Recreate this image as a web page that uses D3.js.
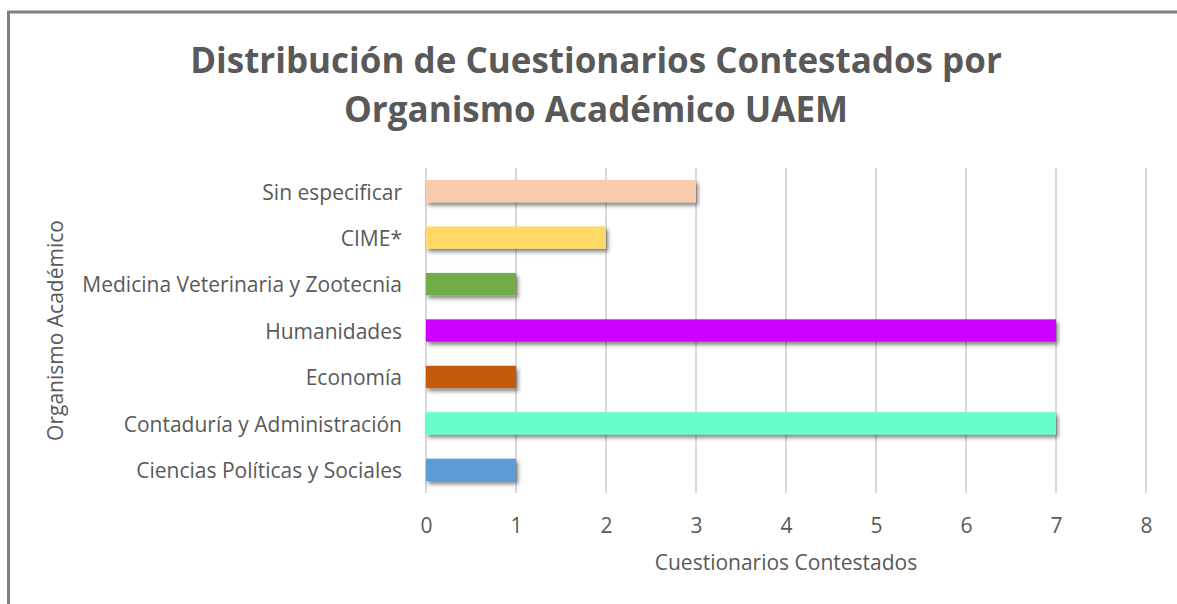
<!DOCTYPE html>
<html>
<head>
<meta charset="utf-8">
<script src="https://cdn.jsdelivr.net/npm/d3@7"></script>
<style>
  body { margin: 0; background: #fff; }
  text { font-family: "Open Sans", sans-serif; fill: #595959; }
</style>
</head>
<body>
<div id="chart"></div>
<script>
var categories = ['Sin especificar', 'CIME*', 'Medicina Veterinaria y Zootecnia', 'Humanidades',
    'Economía', 'Contaduría y Administración', 'Ciencias Políticas y Sociales']
var values = [3, 2, 1, 7, 1, 7, 1]
var colors = ['#F8CBAD', '#FFD966', '#70AD47', '#CC00FF', '#C55A11', '#66FFCC', '#5B9BD5']
var xTicks = [0, 1, 2, 3, 4, 5, 6, 7, 8]
var titleLines = ['Distribución de Cuestionarios Contestados por', 'Organismo Académico UAEM']

var width = 1177,
    height = 604
var margin = { top: 168, right: 31, bottom: 111, left: 426 }

var svg = d3.select('#chart').append('svg')
    .attr('width', width)
    .attr('height', height)

// drop shadow for the bars
var filter = svg.append('defs').append('filter')
    .attr('id', 'shadow')
    .attr('x', '-10%').attr('y', '-40%')
    .attr('width', '130%').attr('height', '200%')
filter.append('feDropShadow')
    .attr('dx', 2).attr('dy', 3)
    .attr('stdDeviation', 2)
    .attr('flood-color', '#000')
    .attr('flood-opacity', 0.5)

// chart frame (runs off the right and bottom edge)
svg.append('rect')
    .attr('x', 8.5).attr('y', 12)
    .attr('width', width + 20).attr('height', height + 20)
    .attr('fill', 'none')
    .attr('stroke', '#7f7f7f')
    .attr('stroke-width', 3)

var plotW = width - margin.left - margin.right,
    plotH = height - margin.top - margin.bottom

var x = d3.scaleLinear().domain([0, 8]).range([0, plotW])
var y = d3.scaleBand().domain(categories).range([0, plotH]).paddingInner(0.52).paddingOuter(0.26)

var g = svg.append('g').attr('transform', `translate(${margin.left}, ${margin.top})`)

// vertical gridlines
g.append('g')
    .selectAll('line')
    .data(xTicks)
    .enter().append('line')
    .attr('x1', d => x(d)).attr('x2', d => x(d))
    .attr('y1', 0).attr('y2', plotH)
    .attr('stroke', '#d9d9d9')
    .attr('stroke-width', 2)

// x axis labels
var axisBottom = d3.axisBottom(x).tickValues(xTicks).tickSize(0).tickPadding(25)
g.append('g')
    .attr('transform', `translate(0, ${plotH})`)
    .call(axisBottom)
    .call(a => a.select('.domain').remove())
    .selectAll('text')
    .style('font-size', '21px')
    .style('font-family', '"Open Sans", sans-serif')
    .attr('fill', '#595959')

// y axis labels
var axisLeft = d3.axisLeft(y).tickSize(0).tickPadding(24)
g.append('g')
    .call(axisLeft)
    .call(a => a.select('.domain').remove())
    .selectAll('text')
    .attr('dy', '0.4em')
    .style('font-size', '21px')
    .style('font-family', '"Open Sans", sans-serif')
    .attr('fill', '#595959')

// bars
g.append('g')
    .selectAll('rect')
    .data(categories)
    .enter().append('rect')
    .attr('x', x(0))
    .attr('y', d => y(d))
    .attr('height', y.bandwidth())
    .attr('width', (d, i) => x(values[i]) - x(0))
    .attr('fill', (d, i) => colors[i])
    .attr('filter', 'url(#shadow)')

// title
svg.append('g')
    .selectAll('text')
    .data(titleLines)
    .enter().append('text')
    .attr('x', 596)
    .attr('y', (d, i) => 73 + i * 49)
    .attr('text-anchor', 'middle')
    .style('font-size', '35px')
    .style('font-weight', 'bold')
    .text(d => d)

// axis titles
svg.append('text')
    .attr('x', margin.left + plotW / 2)
    .attr('y', 570)
    .attr('text-anchor', 'middle')
    .style('font-size', '21px')
    .text('Cuestionarios Contestados')

svg.append('text')
    .attr('transform', `translate(63, ${margin.top + plotH / 2}) rotate(-90)`)
    .attr('text-anchor', 'middle')
    .style('font-size', '21px')
    .text('Organismo Académico')
</script>
</body>
</html>
